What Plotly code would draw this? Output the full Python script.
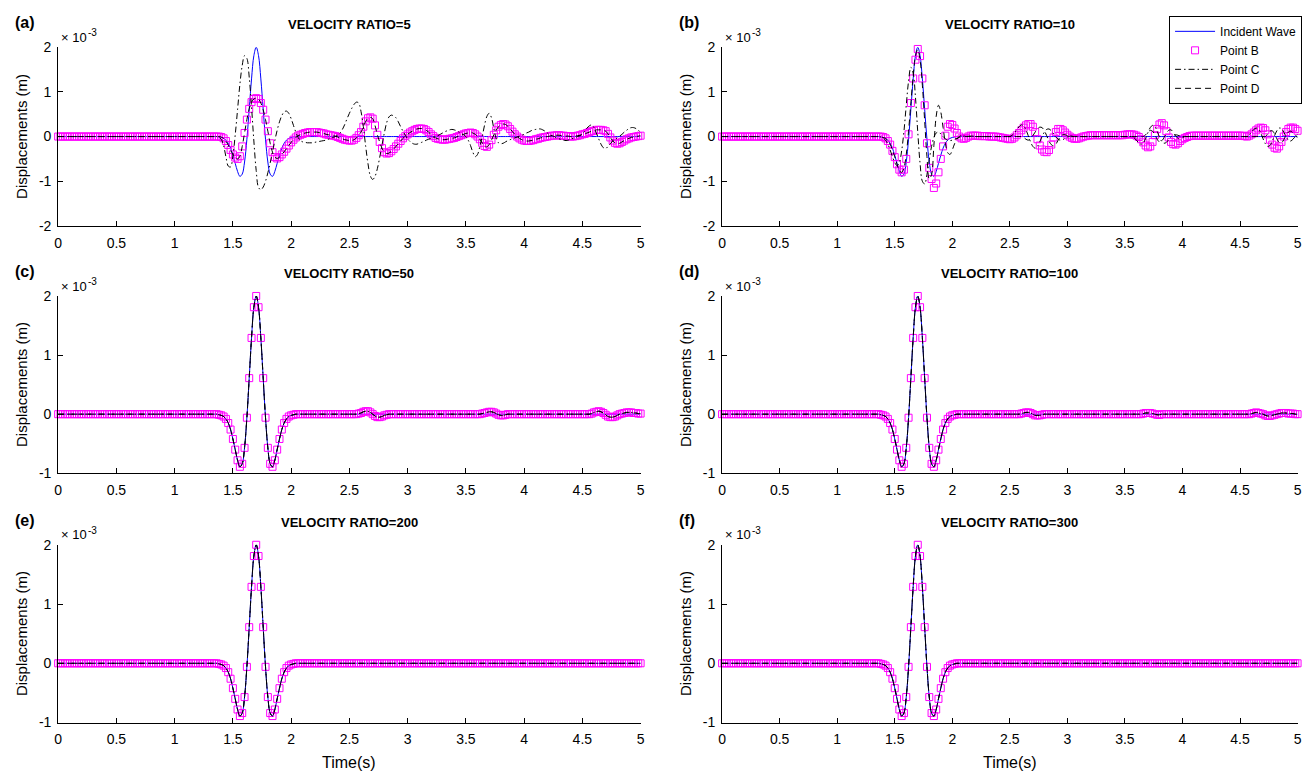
import numpy as np
import plotly.graph_objects as go

W, H = 1314, 781
FONT = "Liberation Sans, Arial, Helvetica, sans-serif"

# sample grid (s); readings below start at ONSET and are quiet before it
DT = 0.02
ONSET = 1.36
time_s = np.round(np.arange(0.0, 5.0 + DT / 2, DT), 2)


def on_grid(values):
    """Put a list of readings (x 1e-3 m) that starts at ONSET on the full time grid."""
    out = np.zeros(time_s.size)
    i0 = int(round(ONSET / DT))
    vals = np.asarray(values, dtype=float)[: time_s.size - i0]
    out[i0:i0 + vals.size] = vals
    return out


# ---- displacement readings, units of 1e-3 m, every 0.02 s from 1.36 s ----
incident = [
    0.00, -0.01, -0.02, -0.04, -0.08, -0.15, -0.26, -0.42, -0.60, -0.78,
    -0.89, -0.84, -0.57, -0.06, 0.61, 1.29, 1.81, 2.00, 1.81, 1.29,
    0.61, -0.06, -0.57, -0.84, -0.89, -0.78, -0.60, -0.42, -0.26, -0.15,
    -0.08, -0.04, -0.02, -0.01, 0.00,
]

pointB_a = [
    0.00, 0.00, -0.01, -0.04, -0.10, -0.19, -0.30, -0.40, -0.47, -0.50,
    -0.44, -0.22, 0.08, 0.38, 0.62, 0.77, 0.84, 0.86, 0.84, 0.75,
    0.60, 0.38, 0.12, -0.15, -0.35, -0.46, -0.49, -0.46, -0.40, -0.34,
    -0.27, -0.20, -0.13, -0.07, -0.02, 0.02, 0.04, 0.06, 0.08, 0.09,
    0.10, 0.10, 0.10, 0.10, 0.09, 0.08, 0.07, 0.05, 0.04, 0.03,
    0.02, 0.01, -0.01, -0.03, -0.05, -0.07, -0.08, -0.09, -0.09, -0.07,
    -0.03, 0.03, 0.10, 0.22, 0.34, 0.41, 0.43, 0.40, 0.25, 0.04,
    -0.12, -0.26, -0.35, -0.38, -0.37, -0.33, -0.28, -0.22, -0.16, -0.10,
    -0.04, 0.01, 0.05, 0.09, 0.12, 0.15, 0.17, 0.18, 0.18, 0.17,
    0.14, 0.10, 0.05, 0.01, -0.03, -0.05, -0.06, -0.07, -0.07, -0.06,
    -0.05, -0.04, -0.03, -0.01, 0.01, 0.03, 0.05, 0.07, 0.08, 0.09,
    0.08, 0.05, 0.00, -0.06, -0.14, -0.21, -0.23, -0.18, -0.08, 0.04,
    0.14, 0.22, 0.26, 0.28, 0.27, 0.23, 0.17, 0.11, 0.05, 0.00,
    -0.04, -0.07, -0.09, -0.10, -0.10, -0.09, -0.08, -0.06, -0.05, -0.03,
    -0.02, -0.01, 0.00, 0.01, 0.02, 0.02, 0.03, 0.03, 0.02, 0.02,
    0.01, 0.01, 0.00, 0.00, 0.01, 0.02, 0.03, 0.05, 0.06, 0.08,
    0.10, 0.12, 0.13, 0.15, 0.15, 0.15, 0.14, 0.12, 0.06, -0.02,
    -0.09, -0.14, -0.16, -0.15, -0.12, -0.09, -0.06, -0.04, -0.02, -0.01,
    0.00, 0.01, 0.02,
]

pointC_a = [
    0.00, -0.01, -0.06, -0.20, -0.45, -0.66, -0.68, -0.43, 0.04, 0.60,
    1.17, 1.59, 1.81, 1.75, 1.33, 0.66, -0.10, -0.76, -1.14, -1.19,
    -1.13, -1.00, -0.81, -0.59, -0.34, -0.09, 0.14, 0.33, 0.47, 0.55,
    0.57, 0.52, 0.40, 0.25, 0.10, -0.02, -0.09, -0.12, -0.13, -0.14,
    -0.14, -0.14, -0.13, -0.12, -0.11, -0.10, -0.09, -0.08, -0.06, -0.04,
    -0.02, 0.00, 0.03, 0.08, 0.16, 0.27, 0.40, 0.52, 0.63, 0.72,
    0.77, 0.75, 0.56, 0.22, -0.22, -0.61, -0.88, -0.96, -0.89, -0.72,
    -0.47, -0.19, 0.08, 0.31, 0.44, 0.48, 0.46, 0.42, 0.33, 0.22,
    0.12, 0.03, -0.05, -0.11, -0.15, -0.17, -0.17, -0.15, -0.13, -0.11,
    -0.08, -0.06, -0.04, -0.02, 0.00, 0.02, 0.05, 0.08, 0.11, 0.13,
    0.15, 0.16, 0.15, 0.13, 0.10, 0.07, 0.04, 0.00, -0.08, -0.20,
    -0.35, -0.45, -0.40, -0.22, 0.00, 0.25, 0.45, 0.52, 0.42, 0.18,
    -0.04, -0.14, -0.16, -0.15, -0.12, -0.09, -0.07, -0.05, -0.03, -0.01,
    0.01, 0.03, 0.05, 0.08, 0.10, 0.13, 0.15, 0.16, 0.17, 0.17,
    0.15, 0.12, 0.08, 0.04, 0.02, 0.00, -0.03, -0.05, -0.07, -0.08,
    -0.09, -0.08, -0.06, -0.04, -0.02, 0.00, 0.02, 0.06, 0.12, 0.19,
    0.24, 0.26, 0.20, 0.08, -0.05, -0.17, -0.25, -0.27, -0.22, -0.16,
    -0.10, -0.06, -0.03, 0.01, 0.05, 0.10, 0.14, 0.18, 0.20, 0.20,
    0.18, 0.14, 0.10,
]

pointD_a = list(pointB_a)

pointB_b = [
    0.00, 0.00, -0.01, -0.04, -0.10, -0.18, -0.32, -0.46, -0.62, -0.74,
    -0.80, -0.74, -0.50, 0.05, 0.75, 1.30, 1.72, 1.96, 1.80, 1.30,
    0.70, -0.15, -0.70, -0.95, -1.15, -1.05, -0.80, -0.50, -0.22, 0.02,
    0.22, 0.28, 0.26, 0.18, 0.08, 0.00, -0.04, -0.05, -0.03, 0.00,
    0.02, 0.02, 0.02, 0.02, 0.01, 0.01, 0.01, 0.01, 0.00, 0.00,
    0.00, 0.00, -0.01, -0.02, -0.03, -0.04, -0.05, -0.06, -0.05, -0.02,
    0.03, 0.08, 0.14, 0.20, 0.25, 0.28, 0.28, 0.22, 0.10, -0.06,
    -0.20, -0.29, -0.34, -0.35, -0.30, -0.18, -0.02, 0.10, 0.17, 0.17,
    0.14, 0.09, 0.04, 0.00, -0.03, -0.05, -0.05, -0.04, -0.02, 0.00,
    0.01, 0.02, 0.03, 0.03, 0.03, 0.03, 0.03, 0.03, 0.03, 0.03,
    0.03, 0.03, 0.03, 0.03, 0.03, 0.03, 0.03, 0.04, 0.05, 0.05,
    0.05, 0.04, 0.02, -0.01, -0.06, -0.13, -0.20, -0.24, -0.22, -0.12,
    0.03, 0.17, 0.27, 0.30, 0.25, 0.12, -0.02, -0.12, -0.17, -0.18,
    -0.15, -0.10, -0.06, -0.03, -0.01, 0.01, 0.02, 0.02, 0.02, 0.02,
    0.02, 0.02, 0.02, 0.02, 0.02, 0.02, 0.02, 0.02, 0.02, 0.02,
    0.02, 0.02, 0.02, 0.02, 0.02, 0.02, 0.02, 0.02, 0.02, 0.01,
    0.00, 0.02, 0.05, 0.09, 0.14, 0.18, 0.20, 0.19, 0.14, 0.05,
    -0.07, -0.18, -0.25, -0.27, -0.22, -0.12, 0.00, 0.10, 0.17, 0.20,
    0.20, 0.17, 0.13,
]

pointC_b = [
    0.00, -0.01, -0.03, -0.08, -0.17, -0.30, -0.45, -0.58, -0.65, -0.58,
    -0.32, 0.12, 0.70, 1.24, 1.55, 1.42, 0.88, 0.10, -0.60, -1.00,
    -1.06, -0.85, -0.52, -0.22, -0.02, 0.08, 0.10, 0.06, 0.00, -0.05,
    -0.08, -0.09, -0.08, -0.06, -0.04, -0.02, 0.00, 0.01, 0.01, 0.01,
    0.01, 0.01, 0.00, 0.00, 0.00, 0.00, 0.00, 0.00, 0.00, 0.00,
    0.00, 0.00, 0.00, 0.00, 0.00, 0.00, 0.00, 0.00, 0.03, 0.08,
    0.15, 0.22, 0.26, 0.24, 0.15, 0.02, -0.12, -0.22, -0.26, -0.22,
    -0.12, 0.00, 0.10, 0.16, 0.17, 0.13, 0.06, -0.01, -0.06, -0.08,
    -0.07, -0.04, -0.01, 0.01, 0.01, 0.00, 0.00, 0.00, 0.00, 0.00,
    0.00, 0.00, 0.00, 0.00, 0.00, 0.00, 0.00, 0.00, 0.00, 0.00,
    0.00, 0.00, 0.00, 0.00, 0.00, 0.00, 0.00, 0.00, 0.00, 0.00,
    0.00, -0.03, -0.08, -0.14, -0.17, -0.14, -0.04, 0.09, 0.20, 0.25,
    0.22, 0.12, -0.01, -0.11, -0.15, -0.13, -0.07, -0.01, 0.03, 0.04,
    0.03, 0.01, 0.00, 0.00, 0.00, 0.00, 0.00, 0.00, 0.00, 0.00,
    0.00, 0.00, 0.00, 0.00, 0.00, 0.00, 0.00, 0.00, 0.00, 0.00,
    0.00, 0.00, 0.00, 0.00, 0.00, 0.00, 0.00, 0.00, 0.00, 0.00,
    0.00, 0.04, 0.10, 0.16, 0.19, 0.17, 0.08, -0.05, -0.16, -0.22,
    -0.20, -0.10, 0.02, 0.13, 0.19, 0.18, 0.10, 0.00, -0.08, -0.10,
    -0.06, 0.00, 0.05,
]

pointD_b = [
    0.00, -0.01, -0.02, -0.04, -0.09, -0.17, -0.30, -0.45, -0.62, -0.76,
    -0.80, -0.70, -0.40, 0.12, 0.75, 1.35, 1.80, 1.95, 1.72, 1.15,
    0.35, -0.45, -0.95, -0.85, -0.20, 0.45, 0.70, 0.55, 0.20, -0.15,
    -0.36, -0.40, -0.30, -0.16, -0.06, 0.00, 0.02, 0.01, 0.00, 0.00,
    0.00, 0.00, 0.00, 0.00, 0.00, 0.00, 0.00, 0.00, 0.00, 0.00,
    0.00, 0.00, 0.00, 0.00, 0.00, 0.00, 0.00, 0.00, 0.00, 0.00,
    0.00, 0.00, 0.00, -0.02, -0.06, -0.08, -0.05, 0.02, 0.10, 0.17,
    0.21, 0.20, 0.13, 0.02, -0.10, -0.18, -0.21, -0.17, -0.08, 0.00,
    0.04, 0.04, 0.02, 0.00, 0.00, 0.00, 0.00, 0.00, 0.00, 0.00,
    0.00, 0.00, 0.00, 0.00, 0.00, 0.00, 0.00, 0.00, 0.00, 0.00,
    0.00, 0.00, 0.00, 0.00, 0.00, 0.00, 0.00, 0.00, 0.00, 0.00,
    0.00, 0.00, 0.00, 0.00, 0.00, 0.00, 0.04, 0.10, 0.14, 0.12,
    0.04, -0.06, -0.12, -0.10, -0.02, 0.07, 0.14, 0.15, 0.10, 0.02,
    -0.04, -0.05, -0.03, 0.00, 0.00, 0.00, 0.00, 0.00, 0.00, 0.00,
    0.00, 0.00, 0.00, 0.00, 0.00, 0.00, 0.00, 0.00, 0.00, 0.00,
    0.00, 0.00, 0.00, 0.00, 0.00, 0.00, 0.00, 0.00, 0.00, 0.00,
    0.00, 0.00, 0.00, 0.00, 0.00, 0.00, 0.00, 0.00, 0.00, 0.06,
    0.12, 0.13, 0.06, -0.05, -0.13, -0.14, -0.07, 0.03, 0.10, 0.12,
    0.08, 0.02, -0.02,
]

# ratios 50 and 100: the three points ride on the incident pulse with small late ripples
points_c = incident + [
    0.00, 0.00, 0.00, 0.00, 0.00,
    0.00, 0.00, 0.00, 0.00, 0.00, 0.00, 0.00, 0.00, 0.00, 0.00,
    0.00, 0.00, 0.00, 0.00, 0.00, 0.00, 0.00, 0.00, 0.00, 0.00,
    0.00, 0.01, 0.02, 0.04, 0.05, 0.05, 0.03, 0.00, -0.03, -0.05,
    -0.05, -0.04, -0.02, -0.01, 0.00, 0.00, 0.00, 0.00, 0.00, 0.00,
    0.00, 0.00, 0.00, 0.00, 0.00, 0.00, 0.00, 0.00, 0.00, 0.00,
    0.00, 0.00, 0.00, 0.00, 0.00, 0.00, 0.00, 0.00, 0.00, 0.00,
    0.00, 0.00, 0.00, 0.00, 0.00, 0.00, 0.00, 0.00, 0.00, 0.00,
    0.00, 0.00, 0.00, 0.00, 0.01, 0.02, 0.03, 0.04, 0.04, 0.03,
    0.01, -0.01, -0.02, -0.02, -0.01, 0.00, 0.00, 0.00, 0.00, 0.00,
    0.00, 0.00, 0.00, 0.00, 0.00, 0.00, 0.00, 0.00, 0.00, 0.00,
    0.00, 0.00, 0.00, 0.00, 0.00, 0.00, 0.00, 0.00, 0.00, 0.00,
    0.00, 0.00, 0.00, 0.00, 0.00, 0.00, 0.00, 0.00, 0.00, 0.00,
    0.00, 0.01, 0.03, 0.04, 0.05, 0.04, 0.02, -0.01, -0.04, -0.05,
    -0.05, -0.04, -0.02, 0.00, 0.01, 0.02, 0.03, 0.03, 0.03, 0.02,
    0.02, 0.01, 0.01,
]

points_d = incident + [
    0.00, 0.00, 0.00, 0.00, 0.00,
    0.00, 0.00, 0.00, 0.00, 0.00, 0.00, 0.00, 0.00, 0.00, 0.00,
    0.00, 0.00, 0.00, 0.00, 0.00, 0.00, 0.00, 0.00, 0.00, 0.00,
    0.00, 0.00, 0.01, 0.02, 0.03, 0.03, 0.02, 0.00, -0.02, -0.02,
    -0.02, -0.01, 0.00, 0.00, 0.00, 0.00, 0.00, 0.00, 0.00, 0.00,
    0.00, 0.00, 0.00, 0.00, 0.00, 0.00, 0.00, 0.00, 0.00, 0.00,
    0.00, 0.00, 0.00, 0.00, 0.00, 0.00, 0.00, 0.00, 0.00, 0.00,
    0.00, 0.00, 0.00, 0.00, 0.00, 0.00, 0.00, 0.00, 0.00, 0.00,
    0.00, 0.00, 0.00, 0.00, 0.00, 0.01, 0.02, 0.02, 0.02, 0.01,
    0.00, -0.01, -0.01, 0.00, 0.00, 0.00, 0.00, 0.00, 0.00, 0.00,
    0.00, 0.00, 0.00, 0.00, 0.00, 0.00, 0.00, 0.00, 0.00, 0.00,
    0.00, 0.00, 0.00, 0.00, 0.00, 0.00, 0.00, 0.00, 0.00, 0.00,
    0.00, 0.00, 0.00, 0.00, 0.00, 0.00, 0.00, 0.00, 0.00, 0.00,
    0.00, 0.00, 0.01, 0.02, 0.03, 0.02, 0.01, 0.00, -0.02, -0.03,
    -0.03, -0.02, -0.01, 0.00, 0.01, 0.02, 0.02, 0.02, 0.01, 0.01,
    0.01, 0.00, 0.00,
]

# ratios 200 and 300: all points follow the incident pulse
points_e = list(incident)
points_f = list(incident)

tags = ["(a)", "(b)", "(c)", "(d)", "(e)", "(f)"]
titles = ["VELOCITY RATIO=5", "VELOCITY RATIO=10", "VELOCITY RATIO=50",
          "VELOCITY RATIO=100", "VELOCITY RATIO=200", "VELOCITY RATIO=300"]
series_B = [pointB_a, pointB_b, points_c, points_d, points_e, points_f]
series_C = [pointC_a, pointC_b, points_c, points_d, points_e, points_f]
series_D = [pointD_a, pointD_b, points_c, points_d, points_e, points_f]
y_ranges = [(-2, 2), (-2, 2), (-1, 2), (-1, 2), (-1, 2), (-1, 2)]
x_ticks = [0, 0.5, 1, 1.5, 2, 2.5, 3, 3.5, 4, 4.5, 5]
x_tick_text = ["0", "0.5", "1", "1.5", "2", "2.5", "3", "3.5", "4", "4.5", "5"]

# axes boxes in pixels
COLS = [(54.5, 640.5), (722.5, 1301.5)]
ROWS = [(40.0, 222.5), (294.0, 475.0), (548.0, 729.5)]


def px_x(v):
    return v / W


def px_y(v):
    return 1 - v / H


def label(text, x, y, size, xanchor="left", weight="normal", angle=0):
    return dict(text=text, x=px_x(x), y=px_y(y), xref="paper", yref="paper",
                xanchor=xanchor, yanchor="middle", textangle=angle,
                showarrow=False,
                font=dict(family=FONT, size=size, color="black", weight=weight))


fig = go.Figure()
layout = dict(
    width=W, height=H, margin=dict(l=0, r=0, t=0, b=0),
    paper_bgcolor="white", plot_bgcolor="white",
    font=dict(family=FONT, size=14, color="black"),
    showlegend=True,
    legend=dict(
        x=px_x(1306), xanchor="right", y=px_y(8), yanchor="top",
        bordercolor="black", borderwidth=1, bgcolor="white",
        font=dict(family=FONT, size=12, color="black"),
        itemwidth=40, tracegroupgap=0,
    ),
)
annotations = []

DASHDOT = "6px,3px,1.5px,3px"
DASHED = "6px,4px"

for k in range(6):
    row, col = divmod(k, 2)
    n = k + 1
    xs = "x" if n == 1 else f"x{n}"
    ys = "y" if n == 1 else f"y{n}"
    x0, x1 = COLS[col]
    top, bot = ROWS[row]
    lo, hi = y_ranges[k]
    leg = (k == 1)

    fig.add_trace(go.Scatter(
        x=time_s, y=on_grid(incident), mode="lines", name="Incident Wave",
        line=dict(color="#0000ff", width=1, shape="spline"),
        xaxis=xs, yaxis=ys, showlegend=leg, legendrank=1))
    fig.add_trace(go.Scatter(
        x=time_s, y=on_grid(series_B[k]), mode="markers", name="Point B",
        marker=dict(symbol="square-open", size=7, color="#ff00ff",
                    line=dict(width=1, color="#ff00ff")),
        cliponaxis=False, xaxis=xs, yaxis=ys, showlegend=leg, legendrank=2))
    fig.add_trace(go.Scatter(
        x=time_s, y=on_grid(series_C[k]), mode="lines", name="Point C",
        line=dict(color="black", width=1, dash=DASHDOT, shape="spline"),
        xaxis=xs, yaxis=ys, showlegend=leg, legendrank=3))
    fig.add_trace(go.Scatter(
        x=time_s, y=on_grid(series_D[k]), mode="lines", name="Point D",
        line=dict(color="black", width=1, dash=DASHED, shape="spline"),
        xaxis=xs, yaxis=ys, showlegend=leg, legendrank=4))

    axis_common = dict(
        showline=True, linecolor="black", linewidth=1, mirror=False,
        showgrid=False, zeroline=False, ticks="inside", ticklen=5,
        tickwidth=1, tickcolor="black",
        tickfont=dict(family=FONT, size=14, color="black"),
    )
    layout["xaxis" if n == 1 else f"xaxis{n}"] = dict(
        axis_common, domain=[px_x(x0), px_x(x1)], range=[0, 5],
        tickmode="array", tickvals=x_ticks, ticktext=x_tick_text,
        anchor=ys, ticklabelstandoff=4,
    )
    yt = list(range(lo, hi + 1))
    layout["yaxis" if n == 1 else f"yaxis{n}"] = dict(
        axis_common, domain=[px_y(bot), px_y(top)], range=[lo, hi],
        tickmode="array", tickvals=yt, ticktext=[str(v) for v in yt],
        anchor=xs, ticklabelstandoff=3,
    )

    cx = (x0 + x1) / 2
    annotations.append(label(titles[k], cx, top - 23, 13, "center", "bold"))
    annotations.append(label(tags[k], x0 - 45, top - 25, 16, "left", "bold"))
    annotations.append(label("\u00d7 10", x0 + 1, top - 10, 13))
    annotations.append(label("-3", x0 + 28, top - 15, 10))
    annotations.append(label("Displacements (m)", x0 - 37, (top + bot) / 2,
                             15, "center", angle=-90))
    if row == 2:
        annotations.append(label("Time(s)", cx, 770, 16, "center"))

layout["annotations"] = annotations
fig.update_layout(**layout)
fig.write_html("out.html")
